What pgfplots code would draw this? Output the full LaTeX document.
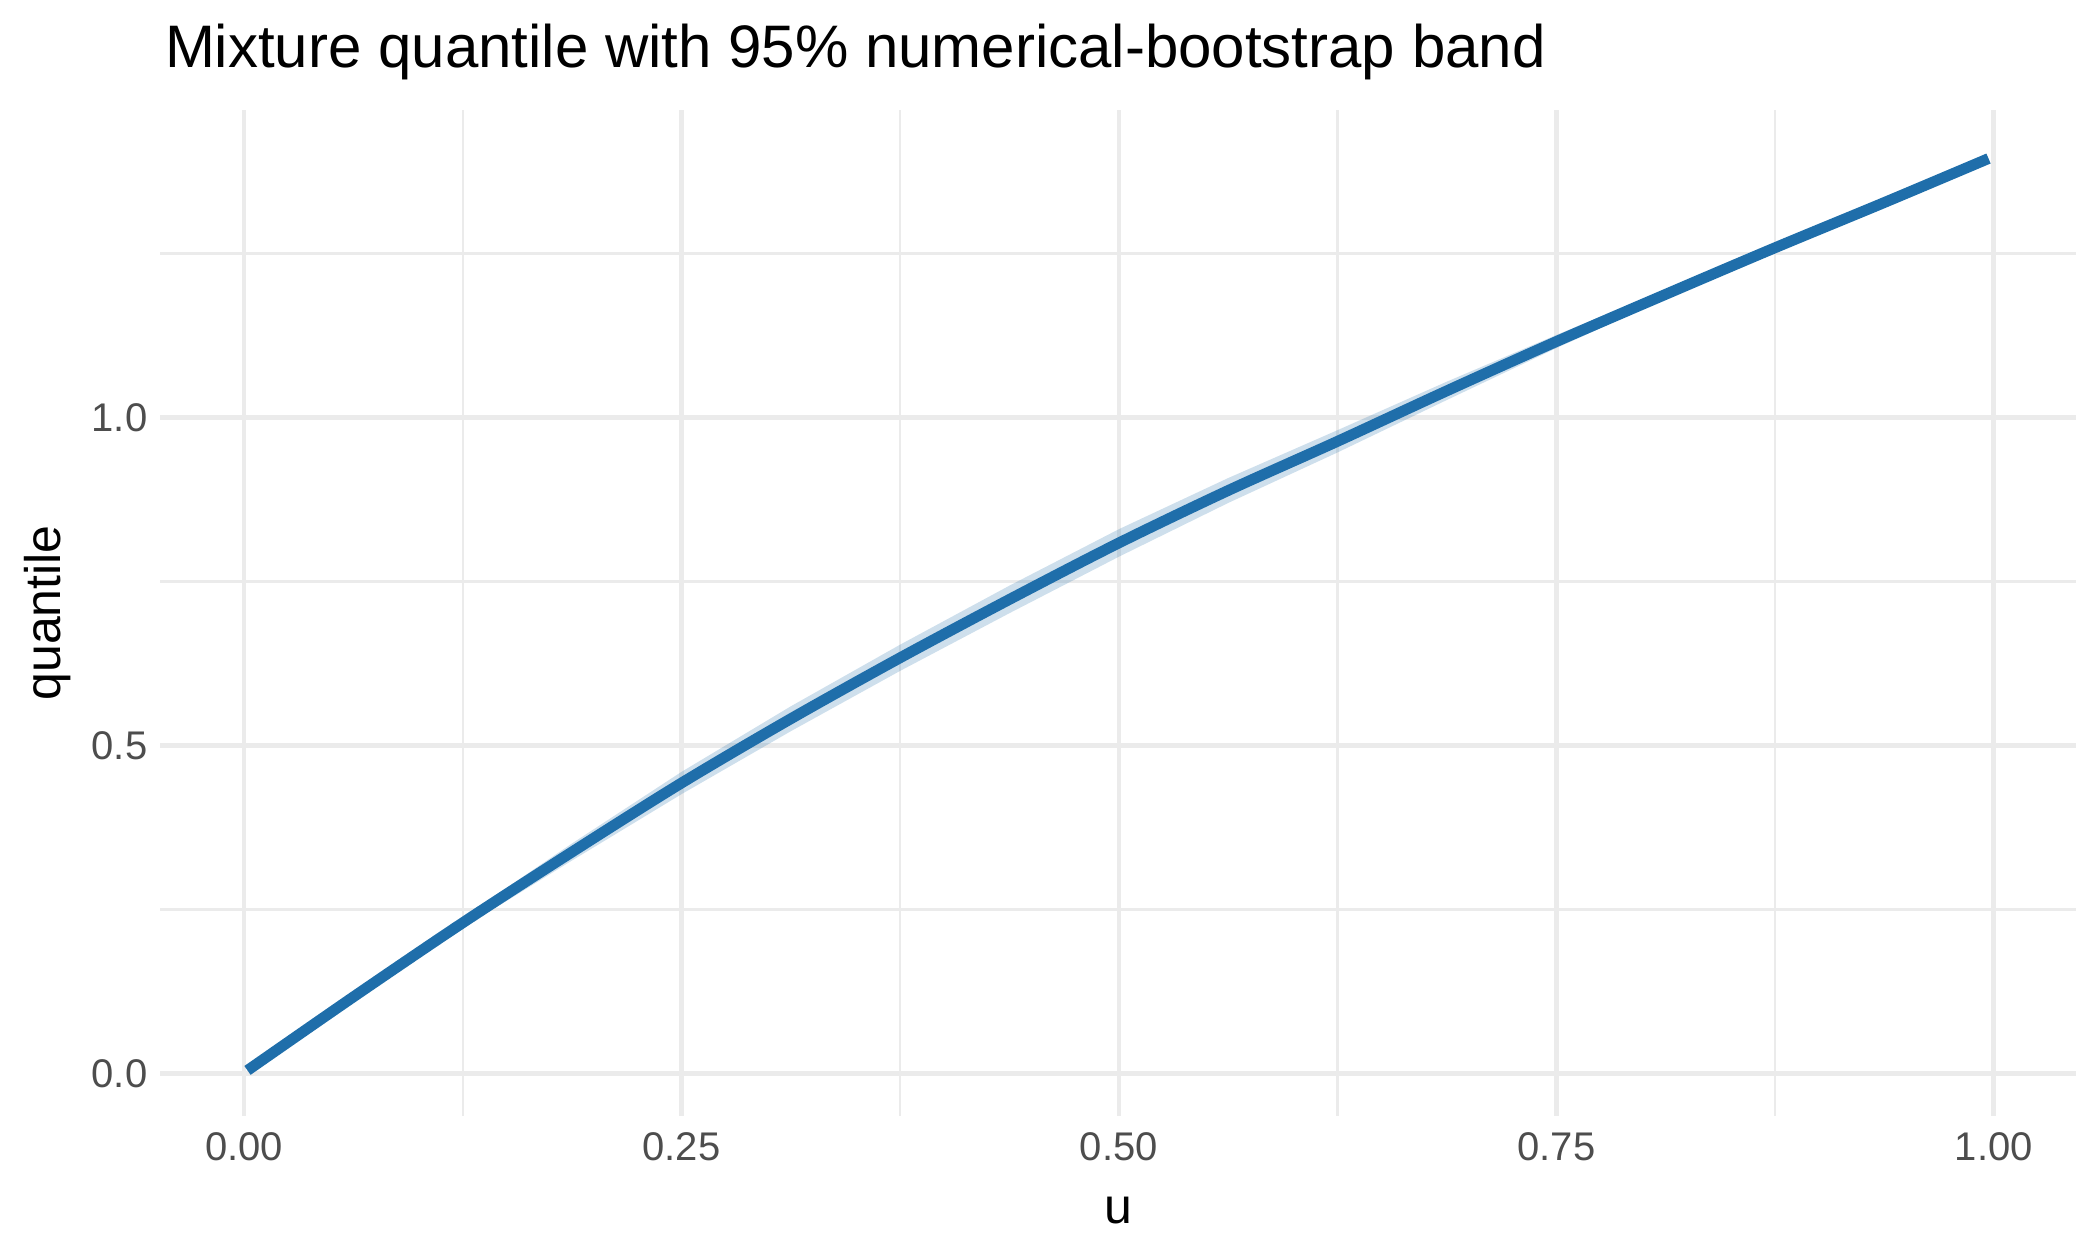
\documentclass[border=0pt]{standalone}
\usepackage{fontspec}
\setmainfont{Liberation Sans}
\usepackage{pgfplots}
\pgfplotsset{compat=1.18}
\usepgfplotslibrary{fillbetween}
\usepackage{pgfplotstable}

\definecolor{lineblue}{RGB}{31,110,170}
\definecolor{gridgray}{RGB}{235,235,235}
\definecolor{ticktext}{RGB}{77,77,77}

% u, quantile, lower and upper band
\pgfplotstableread{
u      q      lo     hi
0.002  0.005  0.005  0.005
0.0625 0.117  0.114  0.120
0.125  0.230  0.222  0.238
0.1875 0.338  0.325  0.351
0.25   0.443  0.426  0.460
0.3125 0.541  0.522  0.560
0.375  0.634  0.614  0.654
0.4375 0.723  0.702  0.744
0.5    0.809  0.788  0.830
0.5625 0.889  0.870  0.908
0.625  0.964  0.947  0.981
0.6875 1.041  1.027  1.055
0.75   1.116  1.106  1.126
0.8125 1.188  1.181  1.195
0.875  1.259  1.255  1.263
0.9375 1.328  1.326  1.330
0.997  1.395  1.394  1.396
}\quantdata

\begin{document}
\begin{tikzpicture}
\begin{axis}[
    scale only axis,
    width=459.84pt, height=241.44pt,
    xmin=-0.048, xmax=1.047,
    ymin=-0.0645, ymax=1.469,
    axis line style={draw=none},
    tick style={draw=none},
    xtick={0,0.25,0.5,0.75,1},
    xticklabels={0.00,0.25,0.50,0.75,1.00},
    minor xtick={0.125,0.375,0.625,0.875},
    ytick={0,0.5,1},
    yticklabels={0.0,0.5,1.0},
    minor ytick={0.25,0.75,1.25},
    grid=both,
    major grid style={draw=gridgray, line width=1.1pt},
    minor grid style={draw=gridgray, line width=0.58pt},
    ticklabel style={font=\fontsize{9.6}{11}\selectfont, text=ticktext},
    xticklabel style={yshift=-0.5pt},
    yticklabel style={xshift=0.5pt},
    /pgf/number format/assume math mode=true,
    xlabel={u},
    xlabel style={font=\fontsize{12}{14}\selectfont, at={(axis description cs:0.5,0)}, anchor=base, yshift=-25.9pt},
    ylabel={quantile},
    ylabel style={font=\fontsize{12}{14}\selectfont, at={(axis description cs:0,0.5)}, anchor=center, yshift=26.9pt},
    title={Mixture quantile with 95\% numerical-bootstrap band},
    title style={font=\fontsize{14.4}{17}\selectfont, at={(axis description cs:0,1)}, anchor=base west, inner sep=0pt, xshift=1.0pt, yshift=4.1pt},
    clip=false,
]
\addplot[draw=none, name path=lower, forget plot] table[x=u, y=lo] {\quantdata};
\addplot[draw=none, name path=upper, forget plot] table[x=u, y=hi] {\quantdata};
\addplot[lineblue, fill opacity=0.22, draw=none] fill between[of=lower and upper];
\addplot[lineblue, line width=2.6pt, smooth, line cap=butt, line join=round] table[x=u, y=q] {\quantdata};
\end{axis}
\pgfresetboundingbox
\path[use as bounding box] (-38.4pt,-34.56pt) rectangle (465.6pt,267.84pt);
\end{tikzpicture}
\end{document}
